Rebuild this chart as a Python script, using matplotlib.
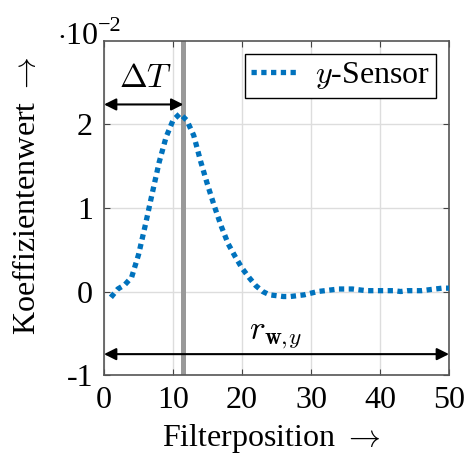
import matplotlib
matplotlib.use("Agg")
import matplotlib.pyplot as plt

# Filter coefficients (in units of 1e-2)
positions = list(range(1, 51))
coef_e2 = [
    -0.07, 0.03, 0.08, 0.17, 0.44, 0.80, 1.18, 1.55, 1.85, 2.05,
    2.13, 2.05, 1.87, 1.56, 1.28, 1.02, 0.78, 0.57, 0.42, 0.28,
    0.17, 0.07, 0.00, -0.04, -0.05, -0.06, -0.06, -0.05, -0.04, -0.02,
    0.00, 0.01, 0.02, 0.03, 0.03, 0.03, 0.02, 0.01, 0.01, 0.01,
    0.01, 0.01, 0.00, 0.01, 0.01, 0.01, 0.02, 0.03, 0.04, 0.04,
]
delay_pos = 11.5
x_ticks = [0, 10, 20, 30, 40, 50]
y_ticks = [-1, 0, 1, 2]

plt.rcParams["font.family"] = ["Liberation Serif", "DejaVu Serif"]
plt.rcParams["mathtext.fontset"] = "cm"
plt.rcParams["axes.unicode_minus"] = False

FS = 23

fig = plt.figure(figsize=(4.7, 4.55), dpi=100)
ax = fig.add_axes([0.2213, 0.1758, 0.7340, 0.7341])

ax.axvline(delay_pos, color="#999999", lw=3.6, zorder=2)

ax.plot(positions, coef_e2, color="#0072BD", lw=3.8,
        linestyle=(0, (1, 0.85)), dash_capstyle="butt",
        label=r"$y$-Sensor", zorder=3)

# arrows
ax.annotate("", xy=(0, 2.24), xytext=(delay_pos, 2.24),
            arrowprops=dict(arrowstyle="<|-|>", color="black", lw=1.5,
                            mutation_scale=18, shrinkA=0, shrinkB=0))
ax.text(6.1, 2.36, r"$\Delta T$", ha="center", va="bottom", fontsize=24)

ax.annotate("", xy=(0, -0.75), xytext=(50, -0.75),
            arrowprops=dict(arrowstyle="<|-|>", color="black", lw=1.5,
                            mutation_scale=18, shrinkA=0, shrinkB=0))
ax.text(24.8, -0.71, r"$r_{\mathbf{w},\!y}$", ha="center", va="bottom", fontsize=24)

ax.set_xlim(0, 50)
ax.set_ylim(-1, 3)
ax.set_xticks(x_ticks)
ax.set_yticks(y_ticks)
ax.tick_params(direction="in", top=True, right=True, labelsize=FS,
               length=4, color="#444444", pad=8)
ax.grid(True, color="#dddddd", lw=1)
ax.set_axisbelow(True)
for s in ax.spines.values():
    s.set_color("#555555")
    s.set_linewidth(1.2)

ax.set_xlabel(r"Filterposition $\rightarrow$", fontsize=FS)
ax.set_ylabel(r"Koeffizientenwert $\rightarrow$", fontsize=FS)
ax.xaxis.set_label_coords(0.484, -0.14)
ax.yaxis.set_label_coords(-0.18, 0.536)

fig.text(57 / 470, 1 - 44 / 455, r"$\cdot$10", fontsize=FS,
         ha="left", va="baseline")
fig.text(98 / 470, 1 - 31 / 455, "\u22122", fontsize=16,
         ha="left", va="baseline")

leg = ax.legend(loc="upper right", fontsize=FS, fancybox=False,
                edgecolor="black", framealpha=1, handlelength=1.4,
                borderpad=0.2, borderaxespad=0.4, handletextpad=0.6)
leg.get_frame().set_linewidth(1.0)

fig.savefig("out.png", dpi=100)
